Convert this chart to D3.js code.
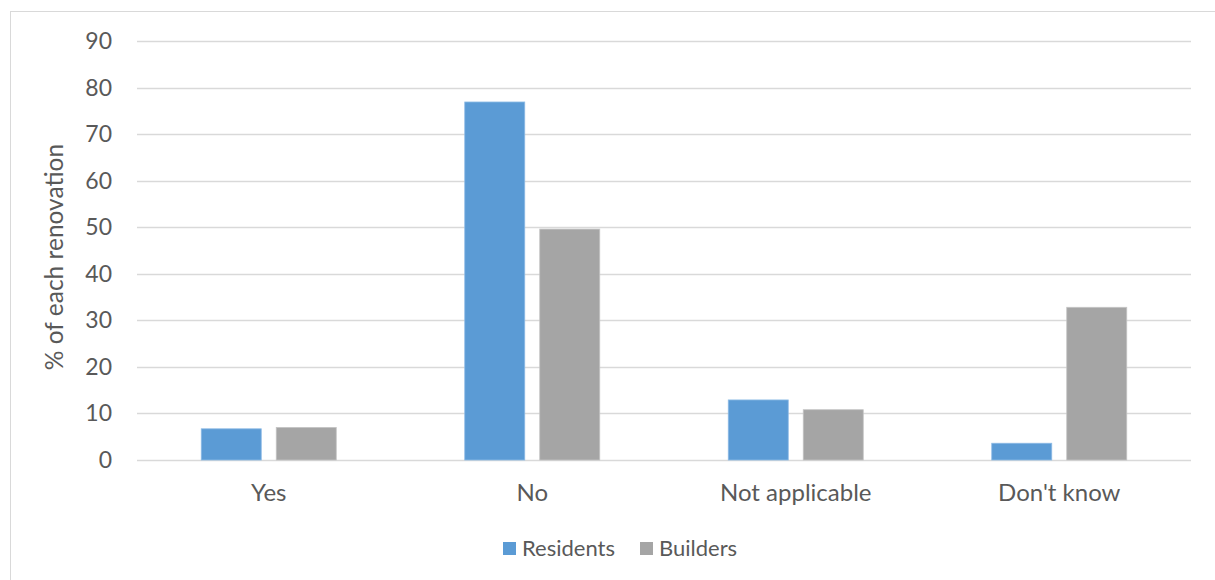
<!DOCTYPE html>
<html>
<head>
<meta charset="utf-8">
<script src="https://cdn.jsdelivr.net/npm/d3@7/dist/d3.min.js"></script>
<style>
  html, body { margin: 0; padding: 0; background: #fff; }
  svg { display: block; font-family: Lato, "Open Sans", sans-serif; }
</style>
</head>
<body>
<svg id="chart" width="1215" height="580"></svg>
<script>
// Answer categories along the x axis
const categories = ["Yes", "No", "Not applicable", "Don't know"];
// Series names, in legend order
const seriesNames = ["Residents", "Builders"];
// Percent of each renovation, one value per category
const residents = [6.7, 76.9, 12.9, 3.6];
const builders = [7.0, 49.6, 10.8, 32.8];
// Y axis ticks
const yTicks = [0, 10, 20, 30, 40, 50, 60, 70, 80, 90];
const colors = ["#5B9BD5", "#A5A5A5"];

const svg = d3.select("#chart");
const plot = { left: 137, right: 1191, top: 41, bottom: 460 };
const textColor = "#595959";
const gridColor = "#D9D9D9";

// Chart-area frame
svg.append("rect")
  .attr("x", 10.5).attr("y", 11.5)
  .attr("width", 1400).attr("height", 800)
  .attr("fill", "none").attr("stroke", gridColor).attr("stroke-width", 1);

const y = d3.scaleLinear().domain([0, 90]).range([plot.bottom, plot.top]);
const x0 = d3.scaleBand().domain(categories).range([plot.left, plot.right]).padding(0);
const clusterWidth = 135;
const x1 = d3.scaleBand().domain(seriesNames).range([0, clusterWidth]).paddingInner(0.2).paddingOuter(0);

// Horizontal gridlines
svg.append("g").selectAll("line")
  .data(yTicks)
  .join("line")
  .attr("x1", plot.left).attr("x2", plot.right)
  .attr("y1", d => Math.round(y(d)) + 0.5).attr("y2", d => Math.round(y(d)) + 0.5)
  .attr("stroke", gridColor).attr("stroke-width", d => d === 0 ? 1.5 : 1.3);

// Y tick labels
svg.append("g").selectAll("text")
  .data(yTicks)
  .join("text")
  .attr("x", 112)
  .attr("y", d => y(d))
  .attr("dy", "0.35em")
  .attr("text-anchor", "end")
  .attr("fill", textColor)
  .attr("font-size", 23)
  .text(d => d);

// Bars
const rows = categories.map((c, i) => ({ cat: c, values: [residents[i], builders[i]] }));
const groups = svg.append("g").selectAll("g")
  .data(rows)
  .join("g")
  .attr("transform", d => `translate(${x0(d.cat) + x0.bandwidth() / 2 - clusterWidth / 2},0)`);

groups.selectAll("rect")
  .data(d => d.values.map((v, j) => ({ name: seriesNames[j], value: v, j })))
  .join("rect")
  .attr("x", d => x1(d.name))
  .attr("width", x1.bandwidth())
  .attr("y", d => y(d.value))
  .attr("height", d => y(0) - y(d.value))
  .attr("fill", d => colors[d.j])
  .attr("stroke", d => d.j === 0 ? "#8DBBE5" : "#C4C4C4")
  .attr("stroke-width", 0.8);

// Category labels
svg.append("g").selectAll("text")
  .data(categories)
  .join("text")
  .attr("x", d => x0(d) + x0.bandwidth() / 2)
  .attr("y", 501)
  .attr("text-anchor", "middle")
  .attr("fill", textColor)
  .attr("font-size", 24)
  .text(d => d);

// Y axis title
svg.append("text")
  .attr("transform", "translate(63,257) rotate(-90)")
  .attr("text-anchor", "middle")
  .attr("fill", textColor)
  .attr("font-size", 24.5)
  .text("% of each renovation");

// Legend
const legendItems = [
  { name: seriesNames[0], color: colors[0], x: 503 },
  { name: seriesNames[1], color: colors[1], x: 640 }
];
const legend = svg.append("g");
legend.selectAll("rect")
  .data(legendItems)
  .join("rect")
  .attr("x", d => d.x).attr("y", 542)
  .attr("width", 13).attr("height", 13)
  .attr("fill", d => d.color);
legend.selectAll("text")
  .data(legendItems)
  .join("text")
  .attr("x", d => d.x + 19)
  .attr("y", 556)
  .attr("fill", textColor)
  .attr("font-size", 22)
  .text(d => d.name);
</script>
</body>
</html>
